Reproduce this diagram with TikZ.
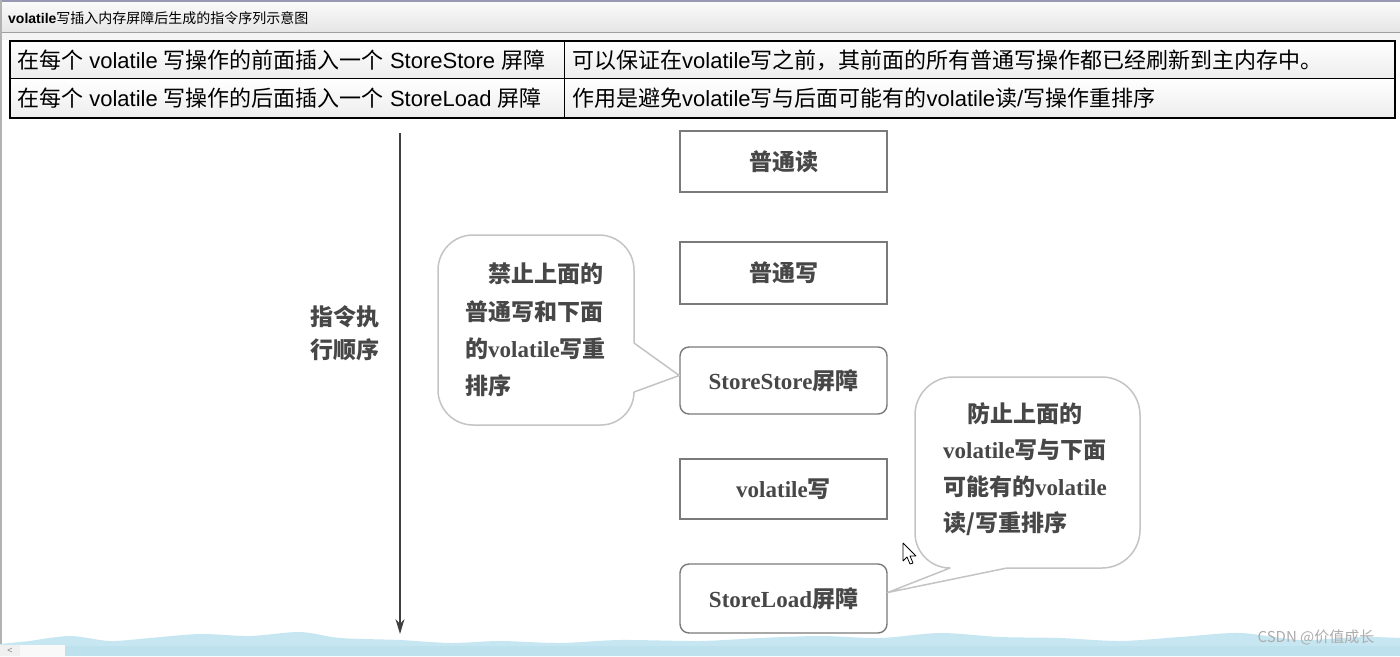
\documentclass[tikz,border=0pt]{standalone}
\usepackage{fontspec}
\setmainfont{Liberation Sans}
\newfontfamily\zht{Noto Sans CJK SC}
\newfontfamily\lserif{Liberation Serif}
\usetikzlibrary{arrows.meta,shadings}
\newcommand\hz[1]{{\zht #1}}
\newcommand\lse[1]{{\lserif #1}}
\definecolor{boxline}{HTML}{7A7A7A}
\definecolor{callline}{HTML}{C4C4C4}
\definecolor{txt}{HTML}{474747}
\definecolor{band}{HTML}{C6E6F2}
\definecolor{bandlow}{HTML}{BEE1EE}
\tikzset{
  cell/.style={anchor=west, inner sep=0pt, font=\fontsize{22}{22}\selectfont, text=black},
  stepbox/.style={draw=boxline, line width=1.4pt, minimum width=207pt, inner sep=0pt, text=txt,
     font=\zht\bfseries\fontsize{23}{23}\selectfont},
  roundbox/.style={stepbox, rounded corners=9pt},
  calltext/.style={inner sep=0pt, align=left, text=txt, anchor=north west},
  callout/.style={draw=callline, line width=1.5pt, line join=round},
}
\begin{document}
\begin{tikzpicture}[x=1pt,y=-1pt]
\useasboundingbox (0,0) rectangle (1400,656);
\fill[white] (0,0) rectangle (1400,656);
% title bar
\shade[top color=gray!4, bottom color=gray!20] (0,2) rectangle (1400,32);
\fill[gray!8] (0,32) rectangle (1400,40);
\draw[blue!15!gray!70, line width=1.5pt] (0,1) -- (1400,1);
\draw[gray!75, line width=1pt] (0,32) -- (1400,32);
\node[anchor=west, inner sep=0pt, font=\fontsize{14}{14}\selectfont] (title) at (8,18)
  {\textbf{volatile}\hz{写插入内存屏障后生成的指令序列示意图}};
\draw[gray!60, line width=2pt] (1,0) -- (1,656);
% table
\shade[top color=white, bottom color=gray!14] (10,41) rectangle (1395,78);
\shade[top color=white, bottom color=gray!14] (10,78) rectangle (1395,118);
\draw[line width=1.5pt] (10,41) rectangle (1395,118);
\draw[line width=1pt] (10,78) -- (1395,78);
\draw[line width=1pt] (564,41) -- (564,118);
\node[cell] (c11) at (17,60) {\hz{在每个} volatile \hz{写操作的前面插入一个} StoreStore \hz{屏障}};
\node[cell] (c12) at (572,60) {\hz{可以保证在}volatile\hz{写之前，其前面的所有普通写操作都已经刷新到主内存中。}};
\node[cell] (c21) at (17,98) {\hz{在每个} volatile \hz{写操作的后面插入一个} StoreLoad \hz{屏障}};
\node[cell] (c22) at (572,98) {\hz{作用是避免}volatile\hz{写与后面可能有的}volatile\hz{读}/\hz{写操作重排序}};
% arrow
\coordinate (atop) at (400,133);
\coordinate (abot) at (400,634);
\draw[line width=1.2pt, draw=black!75, -{Stealth[length=15pt,width=9pt]}] (atop) -- (abot);
\node[inner sep=0pt, align=center, text=txt, font=\zht\bfseries\fontsize{23}{33}\selectfont] (ord) at (345,333) {指令执\\行顺序};
% boxes
\node[stepbox, minimum height=61pt] (r1) at (783.5,161.5) {普通读};
\node[stepbox, minimum height=62pt] (w1) at (783.5,273) {普通写};
\node[roundbox, minimum height=67pt] (ss) at (783.5,380.5) {\lse{StoreStore}屏障};
\node[stepbox, minimum height=60pt] (vw) at (783.5,489) {\lse{volatile}写};
\node[roundbox, minimum height=69pt] (sl) at (783.5,598.5) {\lse{StoreLoad}屏障};
% callout 1
\coordinate (tip1) at ([yshift=5pt]ss.west);
\draw[callout] (473,235) -- (599,235) .. controls (618.25,235) and (634,250.75) .. (634,270)
   -- (634,343) -- (tip1) -- (634,392)
   .. controls (634,410.15) and (619.15,425) .. (601,425) -- (473,425)
   .. controls (453.75,425) and (438,409.25) .. (438,390) -- (438,270)
   .. controls (438,250.75) and (453.75,235) .. (473,235) -- cycle;
\node[calltext, font=\zht\bfseries\fontsize{23}{37.3}\selectfont] (t1) at (465,263)
  {\hspace*{23pt}禁止上面的\\普通写和下面\\的\lse{volatile}写重\\排序};
% callout 2
\coordinate (tip2) at ([yshift=6pt]sl.east);
\draw[callout] (953,377) -- (1102,377) .. controls (1122.9,377) and (1140,394.1) .. (1140,415)
   -- (1140,530) .. controls (1140,550.9) and (1122.9,568) .. (1102,568)
   -- (1007,568) -- (tip2) -- (950,568)
   .. controls (930.75,568) and (915,552.25) .. (915,533) -- (915,415)
   .. controls (915,394.1) and (932.1,377) .. (953,377) -- cycle;
\node[calltext, font=\zht\bfseries\fontsize{23}{36.5}\selectfont] (t2) at (943,402)
  {\hspace*{24pt}防止上面的\\\lse{volatile}写与下面\\可能有的\lse{volatile}\\读/写重排序};
% mouse cursor
\draw[fill=white, line width=0.8pt, line join=round] (903,543) -- (903,561) -- (907,557) -- (910,564) -- (913,563) -- (910,556) -- (916,556) -- cycle;
% bottom band
\fill[band] (0,656) -- (0,644) -- plot[smooth] coordinates {(30,641) (70,636) (110,641) (150,638) (200,634) (250,636) (300,632) (340,638) (400,640) (450,643) (500,641) (560,643) (620,640) (700,641) (760,638) (820,636) (880,638) (940,633) (1000,637) (1060,638) (1120,641) (1180,637) (1240,633) (1300,640) (1360,637) (1400,638)} -- (1400,656) -- cycle;
\fill[bandlow] (0,646) rectangle (1400,656);
\fill[gray!12] (0,645) rectangle (20,656);
\fill[gray!5] (20,645) rectangle (65,656);
\node[inner sep=0pt, text=gray, font=\fontsize{9}{9}\selectfont] (lt) at (10,651) {<};
\node[inner sep=0pt, text=gray!65, font=\zht\fontsize{15}{15}\selectfont] (wm) at (1316,637) {CSDN @价值成长};
\end{tikzpicture}
\end{document}
